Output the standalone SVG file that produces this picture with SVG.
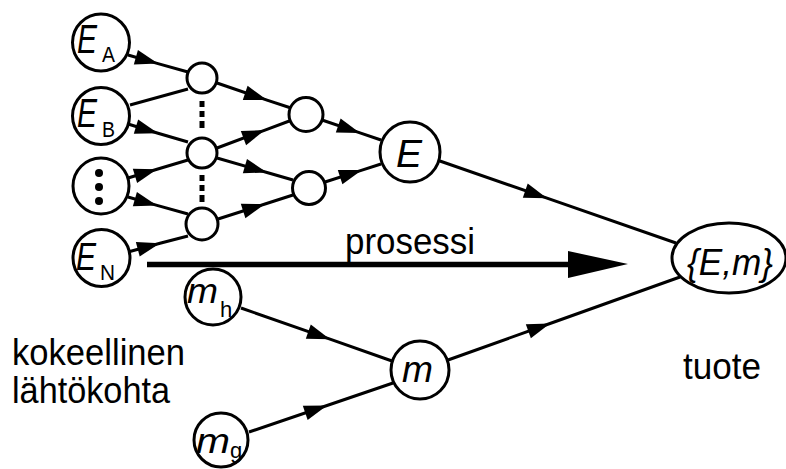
<svg xmlns="http://www.w3.org/2000/svg" width="786" height="469" viewBox="0 0 786 469">
  <style>
    .node { fill: #fff; stroke: #000; stroke-width: 3; }
    .edge { fill: none; stroke: #000; stroke-width: 3; }
    .arrowed { marker-mid: url(#ah); }
    .sym { font-family: "Liberation Sans", Arial, sans-serif; font-style: italic; fill: #000; }
    .sub { font-family: "Liberation Sans", Arial, sans-serif; fill: #000; font-size: 22px; }
    .lbl { font-family: "Liberation Sans", Arial, sans-serif; fill: #000; font-size: 36px; }
    .dot { fill: #000; }
  </style>
  <defs>
    <marker id="ah" markerUnits="userSpaceOnUse" viewBox="-24 -9 26 18" refX="0" refY="0" markerWidth="26" markerHeight="18" orient="auto">
      <path d="M0,0 L-23,-7.5 L-23,7.5 Z" fill="#000"/>
    </marker>
  </defs>

  <rect width="786" height="469" fill="#fff"/>

  <!-- connectors: start, arrow tip, end -->
  <g id="connectors">
    <path class="edge arrowed" d="M128,55 L158,63.6 L188,72"/>
    <path class="edge" d="M130,105 L188,89"/>
    <path class="edge arrowed" d="M128,124 L158,133.2 L188,142"/>
    <path class="edge arrowed" d="M128,178 L157,169.2 L188,160"/>
    <path class="edge arrowed" d="M128,197 L157,205.4 L188,214"/>
    <path class="edge arrowed" d="M128,252 L160,243.3 L188,236"/>
    <path class="edge arrowed" d="M217,83 L267,100.1 L291,108"/>
    <path class="edge arrowed" d="M217,148 L265,130.1 L292,120"/>
    <path class="edge arrowed" d="M217,158 L267,172.5 L293,180"/>
    <path class="edge arrowed" d="M218,219 L265,204 L293,195"/>
    <path class="edge arrowed" d="M322,120 L360,132.9 L381,140"/>
    <path class="edge arrowed" d="M325,182 L362,170.1 L381,164"/>
    <path class="edge arrowed" d="M437,160 L547,198.2 L676,243"/>
    <path class="edge arrowed" d="M448,360 L550,323.5 L680,277"/>
    <path class="edge arrowed" d="M241,308 L330,339.2 L392,361"/>
    <path class="edge arrowed" d="M249,432 L327,405.5 L393,383"/>
    <!-- process arrow -->
    <line x1="147" y1="264.5" x2="572" y2="264.5" stroke="#000" stroke-width="5.5"/>
    <polygon points="568,251 628,264 568,278" fill="#000"/>
  </g>

  <!-- input quantities -->
  <g id="EA">
    <circle class="node" cx="101" cy="42.5" r="28.5"/>
    <text class="sym" x="77" y="53" font-size="40" textLength="20" lengthAdjust="spacingAndGlyphs">E</text>
    <text class="sub" x="102" y="62" textLength="13" lengthAdjust="spacingAndGlyphs">A</text>
  </g>
  <g id="EB">
    <circle class="node" cx="101" cy="116" r="28.5"/>
    <text class="sym" x="77" y="127" font-size="40" textLength="20" lengthAdjust="spacingAndGlyphs">E</text>
    <text class="sub" x="102" y="137" textLength="13" lengthAdjust="spacingAndGlyphs">B</text>
  </g>
  <g id="Edots">
    <circle class="node" cx="101" cy="186" r="28"/>
    <circle class="dot" cx="99" cy="173" r="4"/>
    <circle class="dot" cx="99" cy="187" r="4"/>
    <circle class="dot" cx="99" cy="201" r="4"/>
  </g>
  <g id="EN">
    <circle class="node" cx="101.5" cy="258" r="28.5"/>
    <text class="sym" x="76" y="270" font-size="38" textLength="20" lengthAdjust="spacingAndGlyphs">E</text>
    <text class="sub" x="100" y="280" textLength="15" lengthAdjust="spacingAndGlyphs">N</text>
  </g>

  <!-- first combination stage -->
  <g id="c1"><circle class="node" cx="202" cy="78" r="15"/></g>
  <g id="c2"><circle class="node" cx="202" cy="153" r="15"/></g>
  <g id="c3"><circle class="node" cx="202" cy="224" r="16"/></g>
  <g id="vdots">
    <rect class="dot" x="199.5" y="101" width="5" height="6"/>
    <rect class="dot" x="199.5" y="111" width="5" height="6"/>
    <rect class="dot" x="199.5" y="121" width="5" height="7"/>
    <rect class="dot" x="199.5" y="175" width="5" height="6"/>
    <rect class="dot" x="199.5" y="185" width="5" height="6"/>
    <rect class="dot" x="199.5" y="195" width="5" height="7"/>
  </g>

  <!-- second combination stage -->
  <g id="d1"><circle class="node" cx="306" cy="114.5" r="17"/></g>
  <g id="d2"><circle class="node" cx="309" cy="188" r="16.5"/></g>

  <g id="E">
    <circle class="node" cx="410" cy="152" r="30"/>
    <text class="sym" x="396" y="167" font-size="38" textLength="26" lengthAdjust="spacingAndGlyphs">E</text>
  </g>

  <g id="mh">
    <circle class="node" cx="213" cy="297" r="28"/>
    <text class="sym" x="187" y="303" font-size="35" textLength="31" lengthAdjust="spacingAndGlyphs">m</text>
    <text class="sub" x="220" y="317">h</text>
  </g>
  <g id="mg">
    <circle class="node" cx="221" cy="440" r="27"/>
    <text class="sym" x="196" y="453" font-size="35" textLength="34" lengthAdjust="spacingAndGlyphs">m</text>
    <text class="sub" x="230" y="458">g</text>
  </g>
  <g id="m">
    <circle class="node" cx="420" cy="370" r="29"/>
    <text class="sym" x="402" y="382" font-size="36" textLength="31" lengthAdjust="spacingAndGlyphs">m</text>
  </g>

  <g id="Em">
    <ellipse class="node" cx="729" cy="258" rx="57" ry="35"/>
    <text class="sym" x="687" y="275" font-size="36" textLength="86" lengthAdjust="spacingAndGlyphs">{E,m}</text>
  </g>

  <!-- labels -->
  <text class="lbl" x="345" y="254" font-size="31" textLength="130" lengthAdjust="spacingAndGlyphs">prosessi</text>
  <text class="lbl" x="12" y="365" textLength="173" lengthAdjust="spacingAndGlyphs">kokeellinen</text>
  <text class="lbl" x="12" y="403" textLength="158" lengthAdjust="spacingAndGlyphs">lähtökohta</text>
  <text class="lbl" x="683" y="379" textLength="78" lengthAdjust="spacingAndGlyphs">tuote</text>
</svg>
